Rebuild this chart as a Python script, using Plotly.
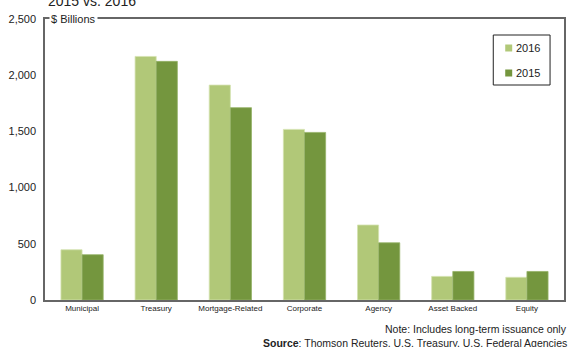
import plotly.graph_objects as go

categories = ["Municipal", "Treasury", "Mortgage-Related", "Corporate", "Agency", "Asset Backed", "Equity"]
values_2016 = [447, 2167, 1912, 1518, 667, 210, 202]
values_2015 = [403, 2123, 1711, 1491, 509, 254, 254]
y_ticks = [0, 500, 1000, 1500, 2000, 2500]
y_tick_labels = ["0", "500", "1,000", "1,500", "2,000", "2,500"]
series_names = ["2016", "2015"]
series_colors = ["#b1c878", "#74963e"]

fig = go.Figure()
fig.add_trace(go.Bar(x=categories, y=values_2016, name=series_names[0], marker_color=series_colors[0],
                     marker_line_color="#d4e2b0", marker_line_width=0.8, showlegend=False))
fig.add_trace(go.Bar(x=categories, y=values_2015, name=series_names[1], marker_color=series_colors[1],
                     marker_line_color="#96b268", marker_line_width=0.8, showlegend=False))

W, H = 572, 347
L, R, T, B = 45, 6, 19, 47
pw, ph = W - L - R, H - T - B

def px(x):
    return (x - L) / pw

def py(y):
    return (H - B - y) / ph

fig.update_layout(
    width=W, height=H,
    margin=dict(l=L, r=R, t=T, b=B),
    paper_bgcolor="white", plot_bgcolor="white",
    barmode="group", bargap=0.43, bargroupgap=0,
    font=dict(family="Liberation Sans, Arial", color="#222"),
    showlegend=False,
    xaxis=dict(showline=True, linecolor="#666", linewidth=1.5, mirror=True,
               tickfont=dict(size=8), ticks="", showgrid=False),
    yaxis=dict(range=[0, 2500], tickvals=y_ticks, ticktext=y_tick_labels,
               showline=True, linecolor="#666", linewidth=1.5, mirror=True,
               ticks="", showgrid=False, tickfont=dict(size=11), zeroline=False,
               ticklabelstandoff=5),
)

# legend box (custom)
fig.add_shape(type="rect", xref="paper", yref="paper", x0=px(495), x1=px(552), y0=py(85), y1=py(35),
              line=dict(color="#222", width=1), fillcolor="white", layer="above")
for name, color, cy in zip(series_names, series_colors, [48, 73]):
    fig.add_shape(type="rect", xref="paper", yref="paper", x0=px(507), x1=px(514),
                  y0=py(cy + 3.5), y1=py(cy - 3.5), line=dict(width=0), fillcolor=color, layer="above")
    fig.add_annotation(text=name, xref="paper", yref="paper", x=px(516), y=py(cy),
                       xanchor="left", yanchor="middle", showarrow=False, font=dict(size=11))

fig.add_annotation(text="$ Billions", xref="paper", yref="paper", x=px(49), y=1.0,
                   xanchor="left", yanchor="middle", showarrow=False,
                   font=dict(size=11), bgcolor="white", borderpad=1)
fig.add_annotation(text="2015 vs. 2016", xref="paper", yref="paper", x=px(46), y=py(1),
                   xanchor="left", yanchor="middle", showarrow=False,
                   font=dict(size=14))
fig.add_annotation(text="Note: Includes long-term issuance only", xref="paper", yref="paper",
                   x=px(571), y=py(329), xanchor="right", yanchor="middle", showarrow=False,
                   font=dict(size=10.5))
fig.add_annotation(text="<b>Source</b>: Thomson Reuters, U.S. Treasury, U.S. Federal Agencies",
                   xref="paper", yref="paper",
                   x=px(571), y=py(343), xanchor="right", yanchor="middle", showarrow=False,
                   font=dict(size=10.5))

fig.write_html("out.html")
